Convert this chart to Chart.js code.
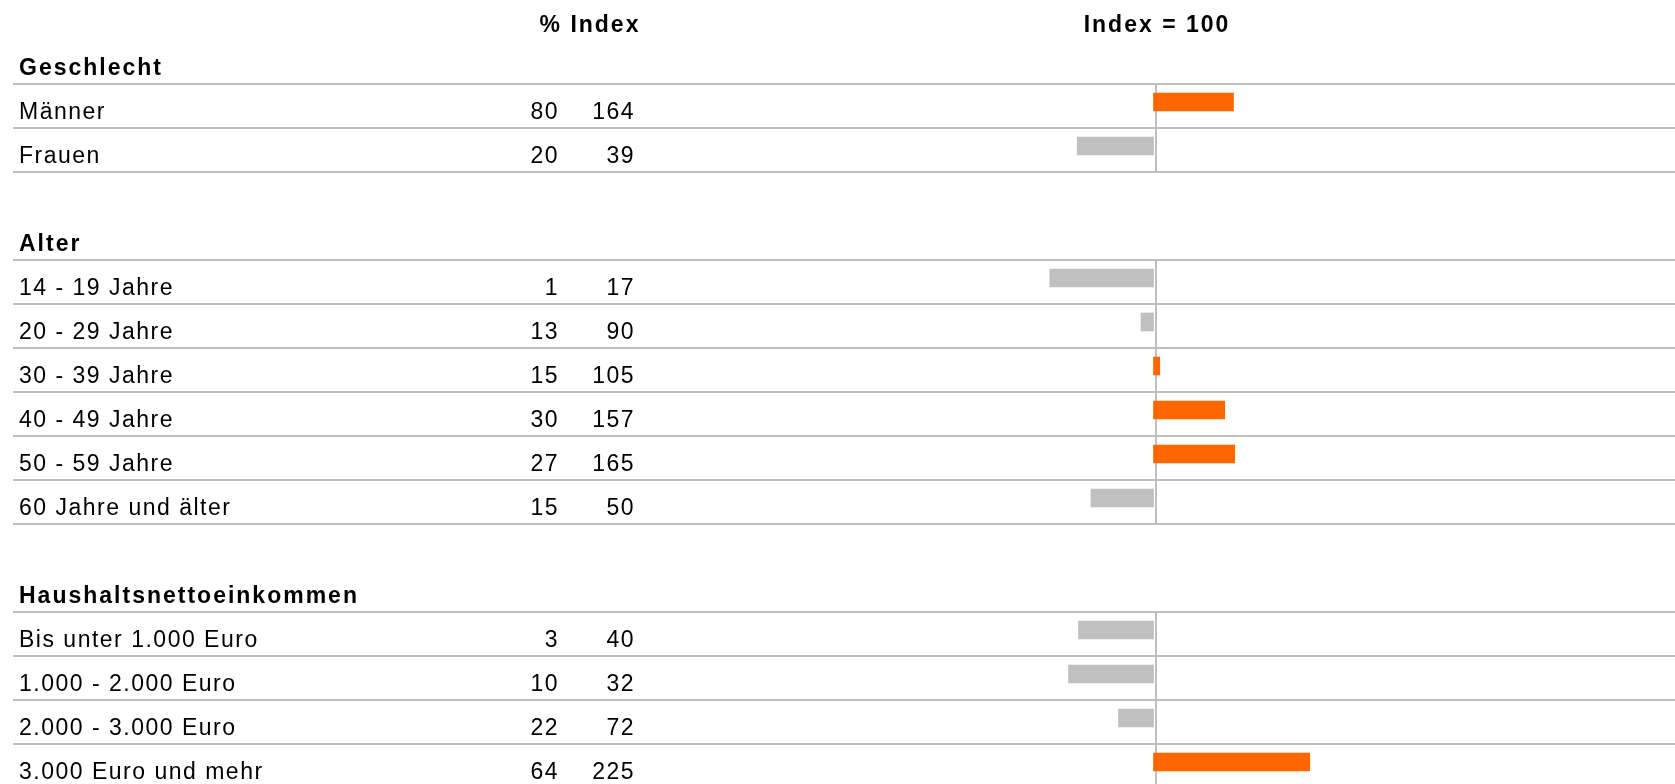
<!DOCTYPE html>
<html lang="de">
<head>
<meta charset="utf-8">
<title>Index</title>
<script src="https://cdn.jsdelivr.net/npm/chart.js@4/dist/chart.umd.min.js"></script>
<style>
  html, body { margin: 0; padding: 0; background: #fff; overflow: hidden; }
  #wrap { position: relative; width: 1675px; height: 784px; }
</style>
</head>
<body>
<div id="wrap"><canvas id="indexChart"></canvas></div>
<script>
// ---- data ----
const groups     = ['Geschlecht', 'Alter', 'Haushaltsnettoeinkommen'];
const categories = [
    ['Männer', 'Frauen'],
    ['14 - 19 Jahre', '20 - 29 Jahre', '30 - 39 Jahre', '40 - 49 Jahre', '50 - 59 Jahre', '60 Jahre und älter'],
    ['Bis unter 1.000 Euro', '1.000 - 2.000 Euro', '2.000 - 3.000 Euro', '3.000 Euro und mehr']
];
const percent = [
    [80, 20],
    [1, 13, 15, 30, 27, 15],
    [3, 10, 22, 64]
];
const indexValues = [
    [164, 39],
    [17, 90, 105, 157, 165, 50],
    [40, 32, 72, 225]
];
const baseIndex  = 100;
const colHeaders = ['% Index', 'Index = 100'];

// flatten into table rows: group header, data rows, blank spacer
const rows = [];
groups.forEach((g, gi) => {
    if (gi > 0) rows.push({ type: 'blank', label: '' });
    rows.push({ type: 'head', label: g });
    categories[gi].forEach((c, ci) => rows.push({
        type: 'data', label: c, pct: percent[gi][ci], idx: indexValues[gi][ci]
    }));
});

const ORANGE = '#ff6600';
const GREY   = '#c0c0c0';
const FONT   = '"Liberation Sans", Arial, sans-serif';

// table lines, axis line at 100 and text columns
const tablePlugin = {
    id: 'tableText',
    beforeDatasetsDraw(chart) {
        const { ctx } = chart;
        const xs = chart.scales.x, ys = chart.scales.y;
        const half = (ys.getPixelForValue(1) - ys.getPixelForValue(0)) / 2;
        const axisX = xs.getPixelForValue(baseIndex) + 2.5;
        ctx.save();
        ctx.strokeStyle = GREY;
        ctx.lineWidth = 2;
        rows.forEach((r, i) => {
            const yc = ys.getPixelForValue(i) + 4;
            if (r.type !== 'blank') {
                ctx.beginPath();
                ctx.moveTo(13, yc + half);
                ctx.lineTo(chart.width, yc + half);
                ctx.stroke();
            }
            if (r.type === 'data') {
                ctx.beginPath();
                ctx.moveTo(axisX, yc - half - 1);
                ctx.lineTo(axisX, yc + half + 1);
                ctx.stroke();
            }
        });
        ctx.restore();
    },
    afterDatasetsDraw(chart) {
        const { ctx } = chart;
        const xs = chart.scales.x, ys = chart.scales.y;
        ctx.save();
        ctx.fillStyle = '#000';
        ctx.textBaseline = 'alphabetic';

        // column headers
        ctx.font = 'bold 23px ' + FONT;
        ctx.letterSpacing = '2px';
        ctx.textAlign = 'center';
        ctx.fillText(colHeaders[0], 590, 31.5);
        ctx.fillText(colHeaders[1], xs.getPixelForValue(baseIndex) + 3.5, 31.5);

        rows.forEach((r, i) => {
            const y = ys.getPixelForValue(i) + 17;
            if (r.type === 'head') {
                ctx.font = 'bold 23px ' + FONT;
                ctx.letterSpacing = '2px';
                ctx.textAlign = 'left';
                ctx.fillText(r.label, 19, y);
            } else if (r.type === 'data') {
                ctx.font = '23px ' + FONT;
                ctx.letterSpacing = '1.5px';
                ctx.textAlign = 'left';
                ctx.fillText(r.label, 19, y);
                ctx.textAlign = 'right';
                ctx.fillText(String(r.pct), 559, y);
                ctx.fillText(String(r.idx), 635, y);
            }
        });
        ctx.restore();
    }
};

const ctx = document.getElementById('indexChart').getContext('2d');
new Chart(ctx, {
    type: 'bar',
    data: {
        labels: rows.map(r => r.label),
        datasets: [{
            data: rows.map(r => r.type === 'data' ? [baseIndex, r.idx] : null),
            backgroundColor: rows.map(r => r.type === 'data' && r.idx > baseIndex ? ORANGE : GREY),
            borderWidth: 0,
            barThickness: 18
        }]
    },
    options: {
        indexAxis: 'y',
        responsive: true,
        maintainAspectRatio: false,
        animation: false,
        layout: { padding: { top: 36, left: 0, right: 0, bottom: 0 } },
        plugins: { legend: { display: false }, tooltip: { enabled: false } },
        scales: {
            x: { type: 'linear', min: -822.8, max: 517.2, display: false },
            y: { display: false }
        }
    },
    plugins: [tablePlugin]
});
</script>
</body>
</html>
